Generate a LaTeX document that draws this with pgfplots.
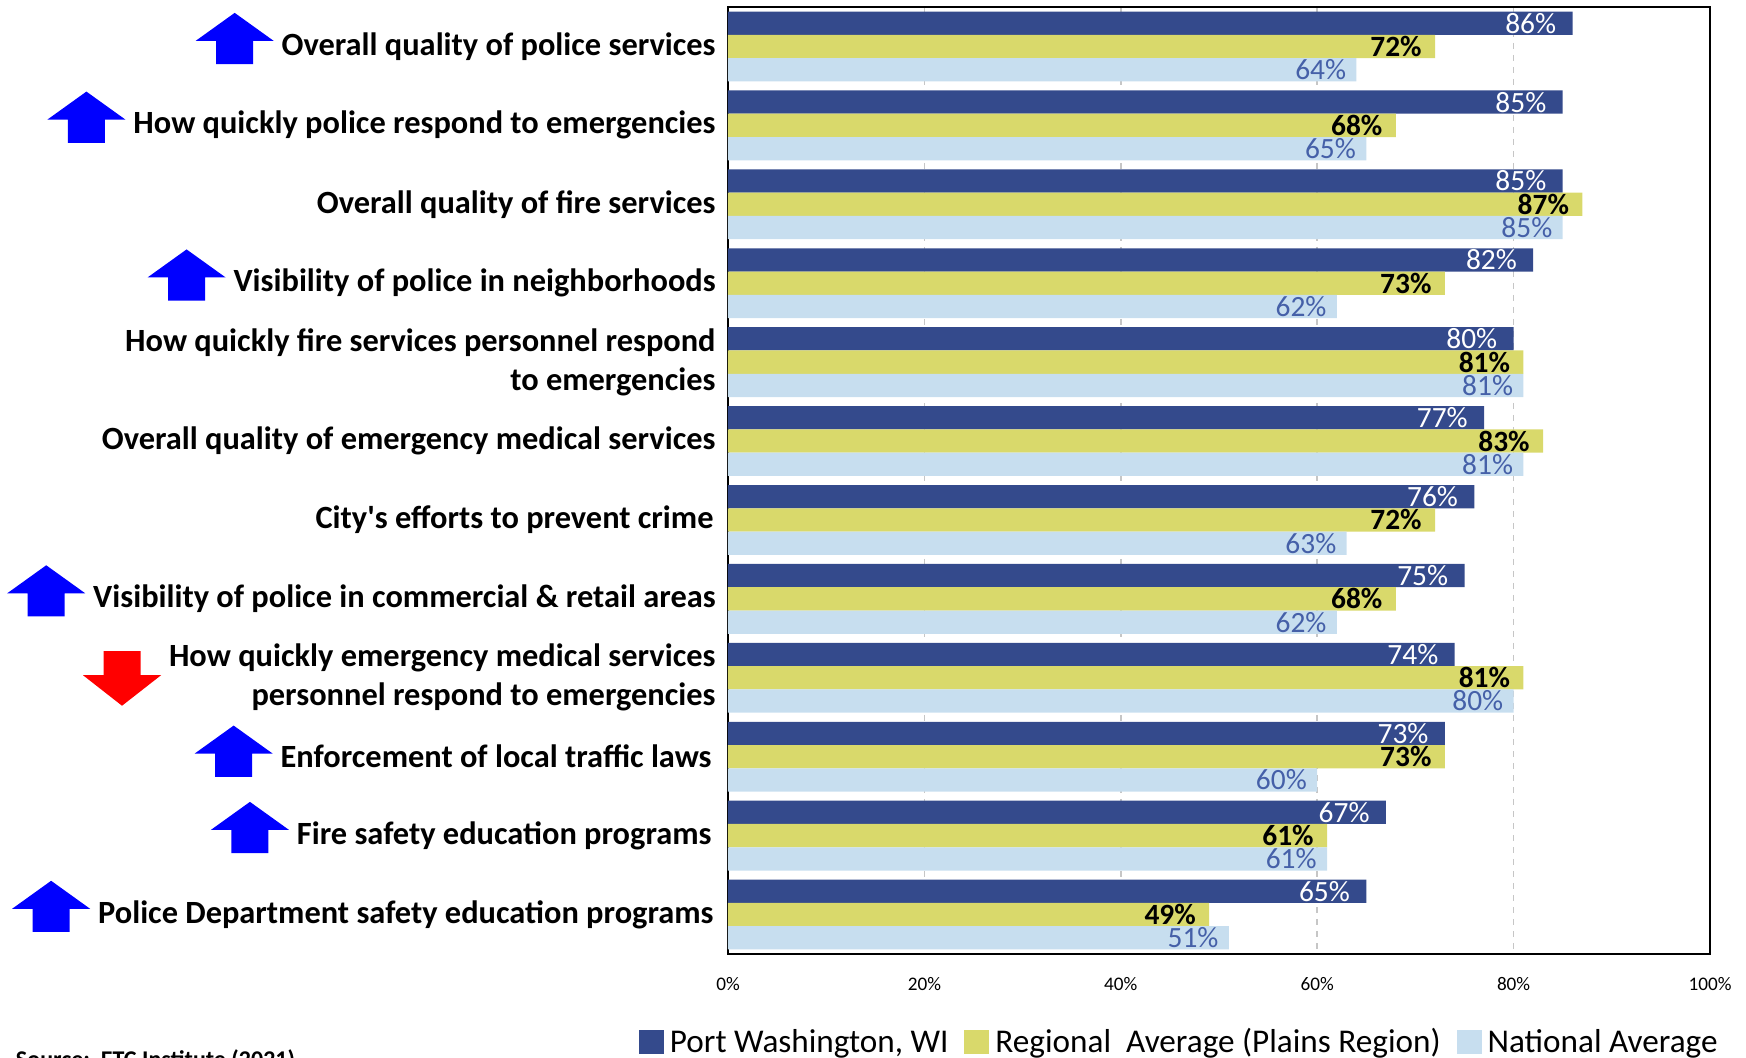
\documentclass[border=0pt]{standalone}
\usepackage{pgfplots}
\pgfplotsset{compat=1.18}
\usepackage{fontspec}
\setmainfont{Carlito}
\definecolor{cdark}{HTML}{344A8C}
\definecolor{cyel}{HTML}{D9D96B}
\definecolor{clight}{HTML}{C7DEEF}
\definecolor{clighttext}{HTML}{4560A8}
\definecolor{arrblue}{HTML}{0000FF}
\definecolor{arrred}{HTML}{FF0000}
\newcommand{\uparr}{\tikz[baseline=0pt]{\useasboundingbox (-19.5pt,0pt) rectangle (19.5pt,0pt);
  \fill[arrblue] (0pt,21.2pt) -- (19.5pt,7.2pt) -- (9.25pt,7.2pt) -- (9.25pt,-4.4pt) -- (-9.25pt,-4.4pt) -- (-9.25pt,7.2pt) -- (-19.5pt,7.2pt) -- cycle;}}
\newcommand{\dnarr}{\tikz[baseline=0pt]{\useasboundingbox (-19.5pt,0pt) rectangle (19.5pt,0pt);
  \fill[arrred] (0pt,-9.65pt) -- (19.5pt,5.6pt) -- (9.25pt,5.6pt) -- (9.25pt,17.65pt) -- (-9.25pt,17.65pt) -- (-9.25pt,5.6pt) -- (-19.5pt,5.6pt) -- cycle;}}
\begin{document}
\begin{tikzpicture}
\useasboundingbox (0,0) rectangle (873pt,529pt);
\begin{axis}[
 at={(364pt,52pt)}, anchor=south west,
 scale only axis, width=491pt, height=473.5pt,
 xmin=0, xmax=100, ymin=-0.5, ymax=11.5, y dir=reverse,
 xbar, bar width=0.295,
 axis line style={black, line width=1pt},
 xtick={0,20,...,100}, xticklabel={\pgfmathprintnumber{\tick}\%},
 xticklabel style={font=\fontsize{9.6}{11}\selectfont, yshift=-8pt},
 ytick={0,...,11},
 yticklabels={
  {\uparr\hspace{4pt}Overall quality of police services},
  {\uparr\hspace{4pt}How quickly police respond to emergencies},
  {Overall quality of fire services},
  {\uparr\hspace{4pt}Visibility of police in neighborhoods},
  {How quickly fire services personnel respond\hspace{3pt}\\to emergencies\hspace{3pt}},
  {Overall quality of emergency medical services},
  {City\textquotesingle s efforts to prevent crime\hspace{1pt}},
  {\uparr\hspace{4pt}Visibility of police in commercial \& retail areas},
  {\dnarr\hspace{4pt}\begin{tabular}{@{}r@{}}How quickly emergency medical services\hspace{2pt}\\personnel respond to emergencies\hspace{2pt}\end{tabular}},
  {\uparr\hspace{4pt}Enforcement of local traffic laws\hspace{2pt}},
  {\uparr\hspace{4pt}Fire safety education programs\hspace{2pt}},
  {\uparr\hspace{4pt}Police Department safety education programs\hspace{1pt}}},
 yticklabel style={font=\bfseries\fontsize{16.2}{19.5}\selectfont, align=right, inner xsep=0pt, xshift=-6pt},
 major tick length=0pt,
 xmajorgrids, major grid style={gray!45, dash pattern=on 3pt off 3pt, line width=0.75pt},
 point meta=x,
 nodes near coords={\pgfmathprintnumber{\pgfplotspointmeta}\%},
 /pgf/number format/assume math mode=true,
 legend columns=3,
 legend style={at={(1,0)}, anchor=east, xshift=10pt, yshift=-44pt, draw=none, fill=none,
   font=\fontsize{16.6}{19}\selectfont, /tikz/every even column/.append style={column sep=5pt},
   nodes={inner xsep=3pt, inner ysep=1pt}},
 legend image code/.code={\draw[#1,draw=none] (0pt,-6pt) rectangle (12.5pt,6pt);},
]
\addplot[xbar, fill=cdark, draw=none, bar shift=-0.295,
  every node near coord/.append style={anchor=east, inner xsep=0pt, xshift=-8pt, text=white, font=\fontsize{14.7}{16}\selectfont}]
 coordinates {(86,0) (85,1) (85,2) (82,3) (80,4) (77,5) (76,6) (75,7) (74,8) (73,9) (67,10) (65,11)};
\addlegendentry{Port Washington, WI}
\addplot[xbar, fill=cyel, draw=none, bar shift=0,
  every node near coord/.append style={anchor=east, inner xsep=0pt, xshift=-6.5pt, text=black, font=\bfseries\fontsize{14.7}{16}\selectfont}]
 coordinates {(72,0) (68,1) (87,2) (73,3) (81,4) (83,5) (72,6) (68,7) (81,8) (73,9) (61,10) (49,11)};
\addlegendentry{Regional\ \ Average (Plains Region)}
\addplot[xbar, fill=clight, draw=none, bar shift=0.295,
  every node near coord/.append style={anchor=east, inner xsep=0pt, xshift=-5pt, text=clighttext, font=\fontsize{14.7}{16}\selectfont}]
 coordinates {(64,0) (65,1) (85,2) (62,3) (81,4) (81,5) (63,6) (62,7) (80,8) (60,9) (61,10) (51,11)};
\addlegendentry{National Average}
\end{axis}
\node[anchor=north west, inner sep=0pt, font=\bfseries\fontsize{12}{14}\selectfont] at (7.8pt,4.5pt) {Source:\ \ ETC Institute (2021)};
\end{tikzpicture}
\end{document}
